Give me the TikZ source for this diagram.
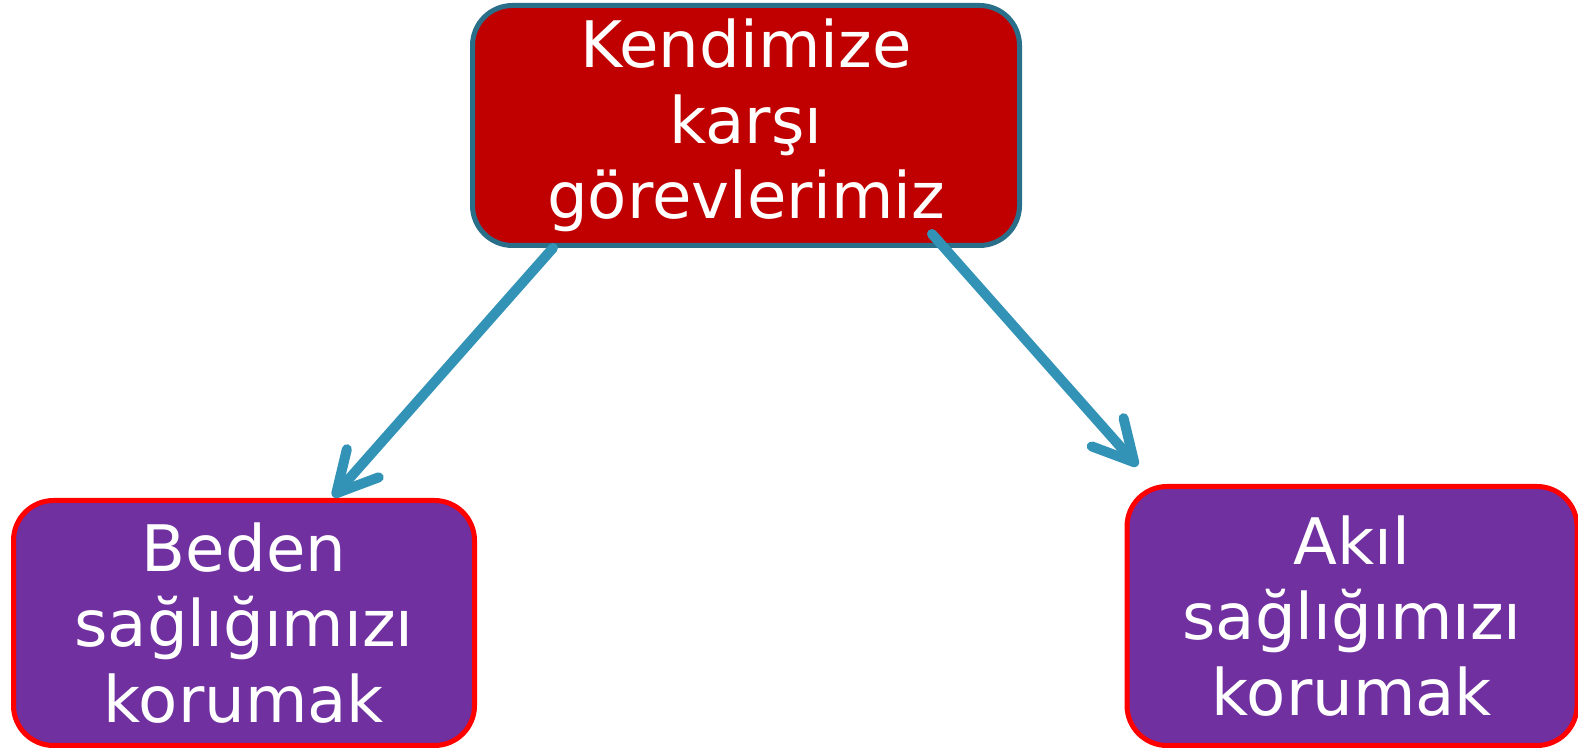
\documentclass[tikz,border=0pt]{standalone}
\usepackage{fontspec}
\setmainfont{DejaVu Sans}
\usetikzlibrary{arrows.meta}
\definecolor{topred}{HTML}{C00000}
\definecolor{topline}{HTML}{2A6F8A}
\definecolor{boxpurple}{HTML}{7030A0}
\definecolor{arrowblue}{HTML}{3393B6}
\begin{document}
\begin{tikzpicture}[
    box/.style = {rounded corners = 0.8cm, line width = 0.1cm, text = white, align = center,
                  font = \fontsize{36.5}{43}\selectfont, inner sep = 0pt},
    arr/.style = {arrowblue, line width = 0.2cm, line cap = round,
                  -{Straight Barb[round, length = 0.8cm, width = 0.85cm]}}]

            \useasboundingbox (0, 0) rectangle (31.56, 14.96);

            \node (top) at (14.92, 12.45) [box, draw = topline, fill = topred,
                minimum width = 10.94cm, minimum height = 4.8cm] {Kendimize\\karşı\\görevlerimiz};

            \node (body) at (4.88, 2.5) [box, draw = red, fill = boxpurple,
                minimum width = 9.22cm, minimum height = 4.9cm] {Beden\\sağlığımızı\\korumak};
            \node (mind) at (27.04, 2.64) [box, draw = red, fill = boxpurple,
                minimum width = 9.0cm, minimum height = 5.18cm] {Akıl\\sağlığımızı\\korumak};

            \draw[arr] ([xshift = -3.86cm]top.south) -- ([xshift = 1.78cm, yshift = 0.02cm]body.north);
            \draw[arr] ([xshift = -1.8cm, yshift = 0.28cm]top.south east) -- ([xshift = 0.26cm, yshift = 0.36cm]mind.north west);
        \end{tikzpicture}
\end{document}
